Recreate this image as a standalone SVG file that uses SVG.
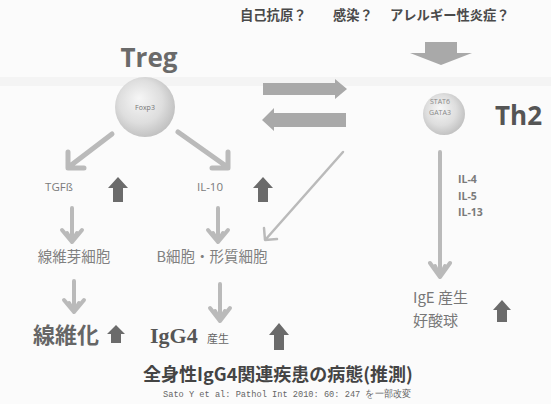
<svg xmlns="http://www.w3.org/2000/svg" width="551" height="404" viewBox="0 0 551 404">
<defs>
<radialGradient id="cellG" cx="0.45" cy="0.45" r="0.6" fx="0.4" fy="0.35">
<stop offset="0" stop-color="#f6f6f6"/>
<stop offset="0.6" stop-color="#dedede"/>
<stop offset="1" stop-color="#bdbdbd"/>
</radialGradient>
</defs>
<style>
.cjk{font-family:"Noto Sans CJK JP","Noto Sans",sans-serif}
.sans{font-family:"Open Sans","Liberation Sans",sans-serif}
.lbl{fill:#7a7a7a;font-size:11.5px}
.gline{fill:none;stroke:#bababa;stroke-linecap:round;stroke-linejoin:round}
.up{fill:#6b6b6b}
.blk{fill:#a9a9a9}
</style>
<rect width="551" height="404" fill="#fbfbfb"/>
<rect x="0" y="77" width="551" height="9" fill="#f4f4f4"/>

<g id="top-label">
<text class="cjk" font-size="13.3" font-weight="bold" fill="#4a4a4a" y="20"><tspan x="240">自己抗原？</tspan><tspan x="333">感染？</tspan><tspan x="390">アレルギー性炎症？</tspan></text>
</g>

<g id="treg">
<text class="sans" x="149" y="67" font-size="26" font-weight="bold" fill="#6a6a6a" text-anchor="middle">Treg</text>
<circle cx="145" cy="107" r="30" fill="url(#cellG)"/>
<text class="sans" x="145" y="110" font-size="7" fill="#777" text-anchor="middle">Foxp3</text>
</g>

<g id="th2">
<circle cx="444" cy="114" r="21" fill="url(#cellG)"/>
<text class="sans" x="440" y="104" font-size="7" fill="#888" text-anchor="middle">STAT6</text>
<text class="sans" x="440" y="115" font-size="7" fill="#888" text-anchor="middle">GATA3</text>
<text class="sans" x="495" y="125" font-size="26" font-weight="bold" fill="#555">Th2</text>
</g>

<g id="tgfb"><text class="sans lbl" x="59" y="191" text-anchor="middle">TGFß</text></g>
<g id="il10"><text class="sans lbl" x="210" y="191" text-anchor="middle">IL-10</text></g>
<g id="fibroblast"><text class="cjk" x="74" y="262" font-size="14.5" fill="#808080" text-anchor="middle">線維芽細胞</text></g>
<g id="bcell"><text class="cjk" x="212" y="262" font-size="14.5" fill="#808080" text-anchor="middle">B細胞・形質細胞</text></g>
<g id="fibrosis"><text class="cjk" x="33" y="343" font-size="22" font-weight="bold" fill="#666">線維化</text></g>
<g id="igg4">
<text x="150" y="343" font-family="Liberation Serif,serif" font-size="22" font-weight="bold" fill="#555">IgG4</text>
<text class="cjk" x="207" y="343" font-size="11" fill="#666">産生</text>
</g>
<g id="th2-cytokines">
<text class="sans" x="458" y="183" font-size="10.5" font-weight="bold" fill="#7a7a7a">IL-4</text>
<text class="sans" x="458" y="200" font-size="10.5" font-weight="bold" fill="#7a7a7a">IL-5</text>
<text class="sans" x="458" y="216" font-size="10.5" font-weight="bold" fill="#7a7a7a">IL-13</text>
</g>
<g id="ige">
<text class="cjk" x="413" y="303" font-size="15" fill="#777">IgE 産生</text>
<text class="cjk" x="413" y="326" font-size="15" fill="#777">好酸球</text>
</g>

<g id="connectors">
<path class="blk" d="M425,42 H457 V53 H472 L441,65 L410,53 H425 Z" fill="#9f9f9f"/>
<path class="blk" d="M263,83 H335 V79 L347,89 L335,99 V95 H263 Z"/>
<path class="blk" d="M346,113 H274 V108 L262,120 L274,131 V127 H346 Z"/>
<path class="gline" stroke-width="5" d="M112,134 L70,166 M68,152 L68,168 L84,168"/>
<path class="gline" stroke-width="5" d="M178,132 L226,166 M212,168 L228,168 L228,152"/>
<path class="gline" stroke-width="4" d="M72,208 V242 M62,230 L72,242 L82,230 M67,233 L72,242 L77,233"/>
<path class="gline" stroke-width="4" d="M218,208 V242 M208,230 L218,242 L228,230 M213,233 L218,242 L223,233"/>
<path class="gline" stroke-width="4" d="M74,281 V312 M64,300 L74,312 L84,300 M69,303 L74,312 L79,303"/>
<path class="gline" stroke-width="4" d="M220,284 V321 M210,308 L220,321 L230,308 M215,311 L220,321 L225,311"/>
<path class="gline" stroke-width="4" d="M440,152 V277 M430,263 L440,277 L450,263 M435,266 L440,277 L445,266"/>
<path class="gline" stroke-width="2.5" d="M343,152 L266,239 M264,228 L265,240 L277,239"/>
<path class="up" d="M118,177 L128,188 H123 V202 H113 V188 H108 Z"/>
<path class="up" d="M263,177 L273,188 H268 V202 H258 V188 H253 Z"/>
<path class="up" d="M116,325 L125,334 H121 V343 H111 V334 H107 Z"/>
<path class="up" d="M279,323 L289,335 H284 V350 H274 V335 H269 Z"/>
<path class="up" d="M502,300 L511,310 H507 V322 H497 V310 H493 Z"/>
</g>

<g id="caption">
<text class="cjk" x="278" y="381" font-size="18" font-weight="bold" fill="#444" text-anchor="middle">全身性IgG4関連疾患の病態(推測)</text>
<text x="163" y="397" font-family="Liberation Mono,monospace" font-size="9.5" fill="#666" textLength="248" lengthAdjust="spacingAndGlyphs">Sato Y et al: Pathol Int 2010: 60: 247 を一部改変</text>
</g>
</svg>
